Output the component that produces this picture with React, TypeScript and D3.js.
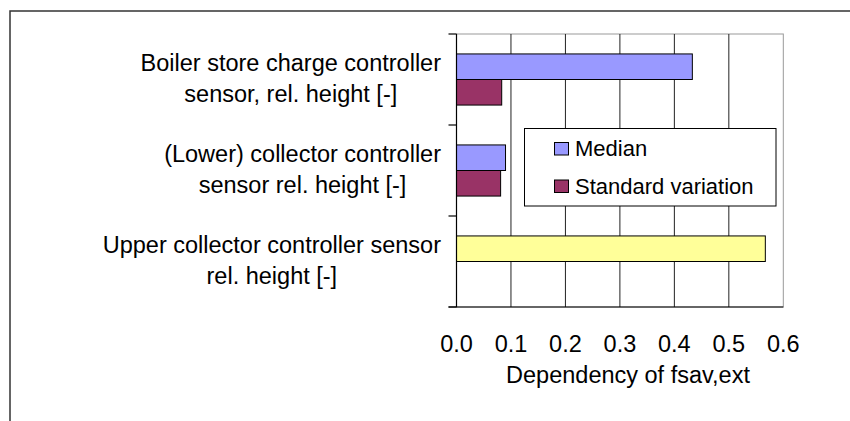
import React from "react";
import * as d3 from "d3";

// chart data
const categories = [
  ["Boiler store charge controller", "sensor, rel. height [-]"],
  ["(Lower) collector controller", "sensor rel. height [-]"],
  ["Upper collector controller sensor", "rel. height [-]"]
];
const seriesNames = ["Median", "Standard variation"];
const medianValues = [0.433, 0.09, 0.567];
const stdValues: (number | null)[] = [0.083, 0.081, null];
const seriesColors = ["#9999FF", "#993366"];
// third median bar is drawn in its own colour in the original
const medianPointColors: (string | null)[] = [null, null, "#FFFF99"];
const xTicks = [0, 0.1, 0.2, 0.3, 0.4, 0.5, 0.6];
const xTitle = "Dependency of fsav,ext";

const FONT = "Liberation Sans, Arial, sans-serif";

let ctx: CanvasRenderingContext2D | null = null;
function textWidth(s: string, size: number) {
  if (!ctx) ctx = document.createElement("canvas").getContext("2d");
  if (!ctx) return s.length * size * 0.5;
  ctx.font = `${size}px ${FONT}`;
  return ctx.measureText(s).width;
}

export default function App() {
  const width = 850;
  const height = 421;
  const left = 456.5;
  const right = 783.3;
  const top = 34;
  const bottom = 307;

  const x = d3.scaleLinear().domain([0, 0.6]).range([left, right]);
  const keys = categories.map((c, i) => String(i));
  const y = d3.scaleBand().domain(keys).range([top, bottom]);
  const inner = d3
    .scaleBand()
    .domain(seriesNames)
    .range([0, y.bandwidth()])
    .paddingInner(0)
    .paddingOuter(0.78);

  const series = [
    { name: seriesNames[0], values: medianValues, colors: medianPointColors },
    { name: seriesNames[1], values: stdValues, colors: [null, null, null] }
  ];

  const labelSize = 23.5;
  const labelRight = 441;

  return (
    <div style={{ position: "absolute", left: 0, top: 0 }}>
      <svg width={width} height={height} style={{ display: "block" }} fontFamily={FONT}>
        <rect x={0} y={0} width={width} height={height} fill="white" />
        {/* outer chart frame, runs past the right and bottom edges */}
        <rect x={10} y={11} width={900} height={500} fill="none" stroke="#333" strokeWidth={1.5} />

        {/* plot area border */}
        <rect x={left} y={top} width={right - left} height={bottom - top} fill="white" stroke="#999" strokeWidth={1} />

        {/* gridlines */}
        {xTicks.slice(1, -1).map(t => (
          <line key={`g${t}`} x1={x(t)} x2={x(t)} y1={top} y2={bottom} stroke="#222" strokeWidth={1} />
        ))}

        {/* bars */}
        {series.map((s, si) => (
          <g key={s.name}>
            {s.values.map((v, i) =>
              v == null ? null : (
                <rect
                  key={i}
                  x={x(0)}
                  y={(y(String(i)) as number) + (inner(s.name) as number)}
                  width={x(v) - x(0)}
                  height={inner.bandwidth()}
                  fill={s.colors[i] || seriesColors[si]}
                  stroke="#000"
                  strokeWidth={1}
                />
              )
            )}
          </g>
        ))}

        {/* axes */}
        <line x1={left} x2={left} y1={top} y2={bottom} stroke="#000" strokeWidth={1.2} />
        <line x1={left - 8} x2={right} y1={bottom} y2={bottom} stroke="#000" strokeWidth={1.2} />
        {[...keys.map(k => y(k) as number), bottom].map((v, i) => (
          <line key={`yt${i}`} x1={left - 8} x2={left} y1={v} y2={v} stroke="#000" strokeWidth={1.2} />
        ))}

        {/* x tick labels */}
        {xTicks.map(t => (
          <text key={`xl${t}`} x={x(t)} y={352} textAnchor="middle" fontSize={labelSize} fill="#000">
            {d3.format(".1f")(t)}
          </text>
        ))}
        <text x={628} y={383} textAnchor="middle" fontSize={labelSize} fill="#000">
          {xTitle}
        </text>

        {/* category labels: block right-aligned, lines centred */}
        {categories.map((lines, i) => {
          const w = Math.max(...lines.map(l => textWidth(l, labelSize)));
          const cx = labelRight - w / 2;
          const cy = (y(String(i)) as number) + y.bandwidth() / 2;
          return (
            <text key={`cl${i}`} textAnchor="middle" fontSize={labelSize} fill="#000">
              <tspan x={cx} y={cy - 8.5}>{lines[0]}</tspan>
              <tspan x={cx} y={cy + 22}>{lines[1]}</tspan>
            </text>
          );
        })}

        {/* legend */}
        <g>
          <rect x={524.5} y={128.5} width={251.5} height={77.5} fill="white" stroke="#000" strokeWidth={1} />
          {seriesNames.map((n, i) => (
            <g key={n} transform={`translate(0, ${i * 37.5})`}>
              <rect x={554.5} y={142.5} width={14} height={12.5} fill={seriesColors[i]} stroke="#000" strokeWidth={1} />
              <text x={575} y={156} fontSize={22} fill="#000">
                {n}
              </text>
            </g>
          ))}
        </g>
      </svg>
    </div>
  );
}
